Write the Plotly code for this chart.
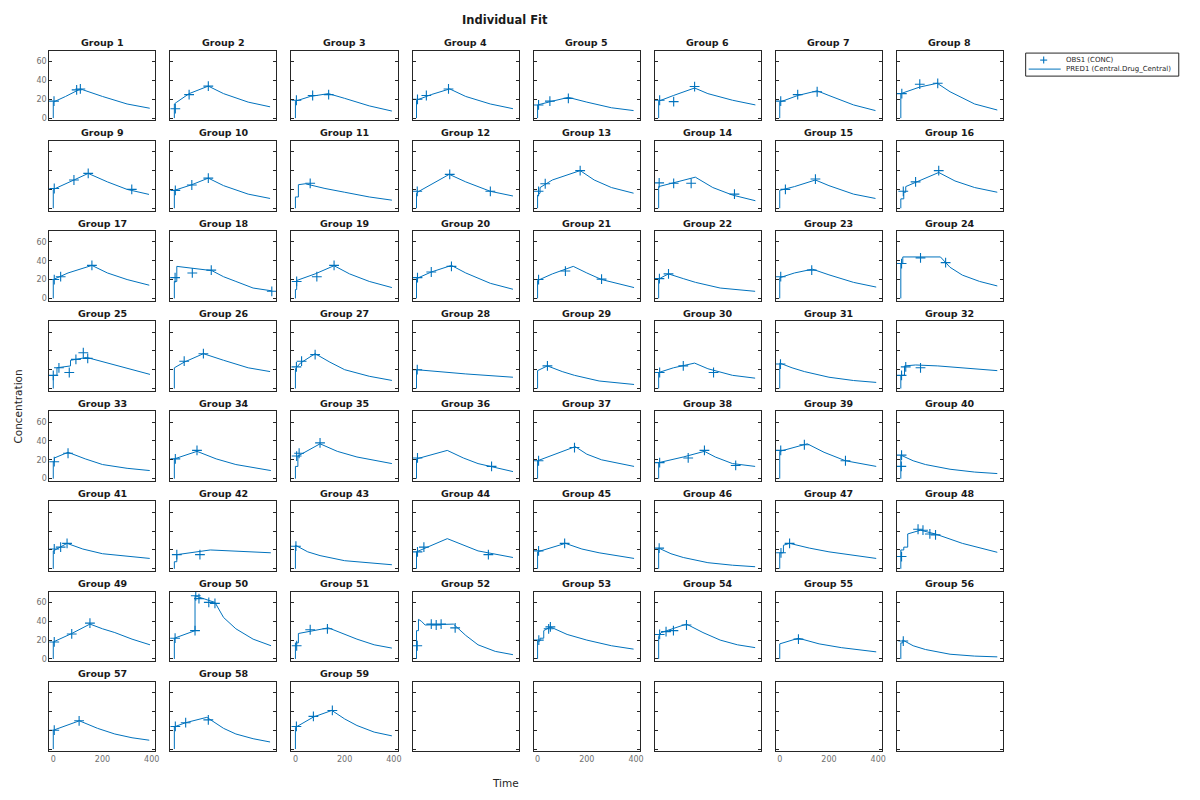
import plotly.graph_objects as go

# ---------------- data (time, concentration) ----------------
pred_g01 = [(0,0),(0,17),(50,23),(110,31),(200,23),(300,15),(392,10.5)]
obs_g01 = [(3,18),(95,30),(110,31)]
pred_g02 = [(0,0),(0,15),(10,17),(60,26),(138,34),(200,26),(300,17),(389,12)]
obs_g02 = [(4,10),(60,25),(138,34)]
pred_g03 = [(0,0),(0,18),(60,23),(134,26),(200,21),(300,13),(392,7.5)]
obs_g03 = [(4,19),(70,24),(135,25)]
pred_g04 = [(0,0),(0,19),(60,25),(135,31),(200,23),(300,15),(392,10)]
obs_g04 = [(4,20),(40,24),(130,31)]
pred_g05 = [(0,0),(0,14),(60,18),(125,22),(200,17),(300,11),(390,8)]
obs_g05 = [(4,14),(50,18),(125,21)]
pred_g06 = [(0,0),(0,18),(60,24),(146,32),(200,26),(300,19),(393,14)]
obs_g06 = [(4,19),(61,17.5),(146,33.5)]
pred_g07 = [(0,0),(0,17),(73,24),(152,29),(200,24),(300,14),(389,8)]
obs_g07 = [(4,18),(73,25),(152,28)]
pred_g08 = [(0,0),(0,26),(77,33),(148,37),(200,28),(300,15),(392,8.6)]
obs_g08 = [(4,26),(77,36),(150,37)]
pred_g09 = [(0,0),(0,20),(84,30),(142,37),(220,28),(300,20),(389,14.7)]
obs_g09 = [(4,21),(84,30),(142,37),(319,20)]
pred_g10 = [(0,0),(0,19),(71,25),(138,32),(200,24),(300,15),(389,10.4)]
obs_g10 = [(4,19),(71,24.7),(138,32)]
pred_g11 = [(0,0),(0,12),(12,12),(12,25),(40,26),(120,21),(200,17),(300,12),(392,8.6)]
obs_g11 = [(60,26.5)]
pred_g12 = [(0,0),(0,16),(10,18),(133,36),(200,28),(300,18),(392,13)]
obs_g12 = [(3,18),(135,36),(300,18)]
pred_g13 = [(0,0),(0,14),(10,16),(10,22),(60,30),(173,40),(230,30),(300,22),(390,16)]
obs_g13 = [(4,18),(31,26),(173,40)]
pred_g14 = [(0,0),(0,23),(60,27),(149,33),(220,22),(300,14),(393,8)]
obs_g14 = [(2,27),(61,26.5),(132,26.5),(308,15)]
pred_g15 = [(0,0),(0,19),(60,23),(145,30),(200,24),(300,15),(389,10.4)]
obs_g15 = [(23,20),(145,31)]
pred_g16 = [(0,0),(0,10),(12,10),(12,17),(20,17),(20,23),(154,38),(220,29),(300,22),(392,17)]
obs_g16 = [(10,18),(60,28),(154,40)]
pred_g17 = [(0,0),(0,20),(60,27),(157,35),(220,27),(300,20),(390,14)]
obs_g17 = [(4,20),(30,23),(157,35)]
pred_g18 = [(0,0),(0,18),(10,18),(10,34),(152,29.5),(200,23),(250,18),(320,11),(396,8)]
obs_g18 = [(3,22),(73,27),(150,30),(396,7.5)]
pred_g19 = [(0,0),(0,9.4),(5,9.4),(5,19),(80,26),(157,34.7),(220,26),(300,18),(392,11.5)]
obs_g19 = [(5,18),(87,23),(157,35)]
pred_g20 = [(0,0),(0,21),(60,28),(142,35),(200,27),(300,16),(392,9.7)]
obs_g20 = [(4,22),(60,28),(142,34)]
pred_g21 = [(0,0),(0,19),(60,26),(145,34),(200,27),(260,20),(392,11.5)]
obs_g21 = [(4,20),(113,29),(260,20.5)]
pred_g22 = [(0,0),(0,20),(10,22),(40,26),(100,21),(150,17),(250,11),(392,7.5)]
obs_g22 = [(3,21),(40,26)]
pred_g23 = [(0,0),(0,22),(60,27),(133,31),(200,25),(300,17),(392,12)]
obs_g23 = [(4,23),(130,30)]
pred_g24 = [(0,0),(0,37),(8,37),(8,44),(161,44),(200,33),(250,24.7),(320,18),(392,13.2)]
obs_g24 = [(3,37),(80,43),(182,38)]
pred_g25 = [(0,0),(0,14),(15,14),(15,22),(70,24),(70,30),(136,33),(250,25),(393,15)]
obs_g25 = [(0,14),(23,22),(65,17),(92,31),(122,38),(140,32)]
pred_g26 = [(0,0),(0,22),(40,28),(118,37),(200,30),(300,22),(389,18)]
obs_g26 = [(40,29),(118,37)]
pred_g27 = [(0,0),(0,21),(20,27),(80,37),(140,28),(200,20),(300,13),(392,8.6)]
obs_g27 = [(4,23),(25,29),(80,36)]
pred_g28 = [(0,0),(0,20),(200,15.5),(392,12)]
obs_g28 = [(3,20)]
pred_g29 = [(0,0),(0,19),(40,24),(100,18),(150,14),(250,8),(392,4.3)]
obs_g29 = [(40,24)]
pred_g30 = [(0,0),(0,17),(60,22),(146,27),(200,21),(300,14),(392,11)]
obs_g30 = [(4,17),(100,24),(223,17)]
pred_g31 = [(0,0),(0,27),(50,22),(100,18),(200,12),(300,8.5),(392,6.5)]
obs_g31 = [(3,26)]
pred_g32 = [(0,0),(0,14),(15,14),(15,24),(60,25),(150,24),(392,19)]
obs_g32 = [(3,14),(20,23),(80,22)]
pred_g33 = [(0,0),(0,18),(5,18),(5,22),(60,28),(130,21),(200,15),(300,11),(392,8.6)]
obs_g33 = [(4,18),(60,27)]
pred_g34 = [(0,0),(0,21),(92,29),(170,21),(250,15),(392,8.6)]
obs_g34 = [(4,21),(92,30)]
pred_g35 = [(0,0),(0,13),(10,13),(10,24),(100,37),(170,29),(250,23),(392,16)]
obs_g35 = [(5,24),(15,27),(100,38)]
pred_g36 = [(0,0),(0,21),(125,30),(190,22),(250,16),(392,7.5)]
obs_g36 = [(4,22),(305,13)]
pred_g37 = [(0,0),(0,19),(153,34),(200,26),(260,20),(392,13)]
obs_g37 = [(4,19),(150,33)]
pred_g38 = [(0,0),(0,17),(100,23),(186,29),(230,23),(300,16),(392,13)]
obs_g38 = [(4,17),(120,22),(186,30),(313,14)]
pred_g39 = [(0,0),(0,29),(112,37),(180,28),(267,19),(392,13)]
obs_g39 = [(4,30),(100,36),(267,19)]
pred_g40 = [(0,0),(0,25),(50,19),(100,15),(200,10),(300,7),(392,5.4)]
obs_g40 = [(2,13),(3,25)]
pred_g41 = [(0,0),(0,19),(56,27),(120,21),(200,16),(300,13),(392,11)]
obs_g41 = [(4,21),(30,23),(56,27)]
pred_g42 = [(0,0),(0,7.5),(10,7.5),(10,15),(146,20),(392,17)]
obs_g42 = [(10,15),(104,15)]
pred_g43 = [(0,0),(0,25),(50,18),(100,14),(200,8.6),(300,6),(392,4.3)]
obs_g43 = [(2,24)]
pred_g44 = [(0,0),(0,18),(125,32),(190,25),(250,19),(392,12)]
obs_g44 = [(4,18),(30,23),(292,15)]
pred_g45 = [(0,0),(0,18),(113,27),(180,21),(250,17),(392,11)]
obs_g45 = [(4,19),(110,27)]
pred_g46 = [(0,0),(0,22),(50,16),(100,12),(200,6.5),(300,3.8),(392,2.2)]
obs_g46 = [(2,22)]
pred_g47 = [(0,0),(0,17),(15,17),(15,25),(40,27),(120,22),(200,18),(300,14),(392,11)]
obs_g47 = [(5,17),(40,27)]
pred_g48 = [(0,0),(0,20),(12,20),(12,23),(28,23),(28,37),(80,41),(140,37),(250,27),(392,17.5)]
obs_g48 = [(3,13),(70,42),(90,41),(118,37),(141,36)]
pred_g49 = [(0,0),(0,18),(75,27),(149,37),(200,32),(250,28),(320,21),(393,15)]
obs_g49 = [(4,18),(75,26.5),(149,38)]
pred_g50 = [(0,0),(0,22),(84,30),(84,67),(165,60),(200,44),(250,32),(320,21),(393,14)]
obs_g50 = [(3,22),(84,30),(87,67),(100,64),(140,60),(165,59)]
pred_g51 = [(0,0),(0,17),(12,17),(12,27),(134,33),(200,26),(250,21),(320,15),(392,11.5)]
obs_g51 = [(5,14),(60,31),(130,32)]
pred_g52 = [(0,0),(0,30),(8,30),(8,42),(20,40),(35,36),(150,37),(200,25),(250,15),(320,8),(392,4.5)]
obs_g52 = [(3,14),(60,37),(80,36),(100,37),(157,33)]
pred_g53 = [(0,0),(0,19),(10,19),(10,22),(25,22),(25,30),(52,34),(120,26),(200,20),(300,14),(390,10.4)]
obs_g53 = [(5,20),(45,32),(52,34)]
pred_g54 = [(0,0),(0,24),(10,28),(113,37),(180,28),(250,20),(320,15),(392,12)]
obs_g54 = [(4,26),(30,29),(60,30),(113,36)]
pred_g55 = [(0,0),(0,16),(76,22),(160,16),(250,12),(392,7.5)]
obs_g55 = [(76,21)]
pred_g56 = [(0,0),(0,17),(8,17),(8,20),(50,14),(100,10),(200,5),(300,3),(392,2.2)]
obs_g56 = [(10,19)]
pred_g57 = [(0,0),(0,20),(106,30),(180,22),(250,16),(320,12),(390,9.4)]
obs_g57 = [(4,20),(105,30)]
pred_g58 = [(0,0),(0,23.6),(46,28),(132,33.7),(200,22),(250,16),(320,11),(389,7.5)]
obs_g58 = [(4,24),(46,28),(138,31)]
pred_g59 = [(0,0),(0,23),(73,34),(148,41),(200,32),(250,25),(320,18),(392,14)]
obs_g59 = [(4,24),(73,34.7),(150,41)]

group_names = [f"Group {i}" for i in range(1, 60)]
x_ticks = [0, 200, 400]
y_ticks = [0, 20, 40, 60]
legend_labels = ["OBS1 (CONC)", "PRED1 (Central.Drug_Central)"]

preds = [globals()[f"pred_g{i:02d}"] for i in range(1, 60)]
obss = [globals()[f"obs_g{i:02d}"] for i in range(1, 60)]

# ---------------- layout geometry ----------------
W, H = 1200, 800
S = 1.004  # compensation for slight down-scaling observed in the capture
NCOL, NROW = 8, 8
BLUE = "#0072BD"
FONT = "DejaVu Sans"

def px(x):
    return x * S / W

def py(y):
    return 1 - y * S / H

def xdom(c):
    return [px(49.3 + 121 * c), px(155.3 + 121 * c)]

def ydom(r):
    return [py(120.3 + 90 * r), py(50.7 + 90 * r)]

fig = go.Figure()
layout = dict(
    width=W, height=H,
    margin=dict(l=0, r=0, t=0, b=0),
    paper_bgcolor="white", plot_bgcolor="white",
    showlegend=False,
    font=dict(family=FONT, color="#262626"),
)
annotations = []
shapes = []

for k in range(NROW * NCOL):
    r, c = divmod(k, NCOL)
    idx = k + 1
    xa = "xaxis" if idx == 1 else f"xaxis{idx}"
    ya = "yaxis" if idx == 1 else f"yaxis{idx}"
    xref = "x" if idx == 1 else f"x{idx}"
    yref = "y" if idx == 1 else f"y{idx}"
    show_x = (r == NROW - 1) and (c % 2 == 0)
    show_y = (c == 0) and (r % 2 == 0)
    layout[xa] = dict(
        domain=xdom(c), anchor=yref, range=[-16, 415],
        tickvals=x_ticks, showticklabels=show_x, ticks="",
        showgrid=False, zeroline=False, showline=True, mirror=True,
        linecolor="#262626", linewidth=1,
        tickfont=dict(size=8, color="#6e6e6e", family=FONT),
    )
    layout[ya] = dict(
        domain=ydom(r), anchor=xref, range=[-2.5, 71.5],
        tickvals=y_ticks, showticklabels=show_y, ticks="inside", ticklen=3,
        tickcolor="#262626", showgrid=False, zeroline=False, showline=True,
        mirror="ticks", linecolor="#262626", linewidth=1,
        tickfont=dict(size=8, color="#6e6e6e", family=FONT),
    )
    if k < len(group_names):
        p = preds[k]
        o = obss[k]
        fig.add_trace(go.Scatter(
            x=[t for t, _ in o], y=[v for _, v in o], mode="markers",
            marker=dict(symbol="cross-thin", size=7, color=BLUE,
                        line=dict(width=1.1, color=BLUE)),
            name=legend_labels[0], xaxis=xref, yaxis=yref, cliponaxis=False,
        ))
        fig.add_trace(go.Scatter(
            x=[t for t, _ in p], y=[v for _, v in p], mode="lines",
            line=dict(color=BLUE, width=1),
            name=legend_labels[1], xaxis=xref, yaxis=yref,
        ))
        top_px = 50.7 + 90 * r
        cx = (xdom(c)[0] + xdom(c)[1]) / 2
        annotations.append(dict(
            text=f"<b>{group_names[k]}</b>", x=cx, y=py(top_px - 8),
            xref="paper", yref="paper", xanchor="center", yanchor="middle",
            showarrow=False, font=dict(size=9.5, family=FONT, color="#1a1a1a"),
        ))
    else:
        # empty panel: still drawn as an axes box
        fig.add_trace(go.Scatter(x=[None], y=[None], mode="lines",
                                 xaxis=xref, yaxis=yref, hoverinfo="skip"))

annotations += [
    dict(text="<b>Individual Fit</b>", x=px(505), y=py(20), xref="paper", yref="paper",
         xanchor="center", yanchor="middle", showarrow=False,
         font=dict(size=11.5, family=FONT, color="#1a1a1a")),
    dict(text="Time", x=px(505), y=py(782), xref="paper", yref="paper",
         xanchor="center", yanchor="middle", showarrow=False,
         font=dict(size=10.5, family=FONT, color="#262626")),
    dict(text="Concentration", x=px(18), y=py(406), xref="paper", yref="paper",
         xanchor="center", yanchor="middle", showarrow=False, textangle=-90,
         font=dict(size=10.5, family=FONT, color="#262626")),
]

# ---- legend (drawn box, glyphs and labels) ----
shapes.append(dict(type="rect", xref="paper", yref="paper",
                   x0=px(1025), x1=px(1178), y0=py(76), y1=py(53),
                   line=dict(color="#262626", width=1), fillcolor="white"))
shapes.append(dict(type="line", xref="paper", yref="paper",
                   x0=px(1039.5), x1=px(1046.5), y0=py(60), y1=py(60),
                   line=dict(color=BLUE, width=1.1)))
shapes.append(dict(type="line", xref="paper", yref="paper",
                   x0=px(1043), x1=px(1043), y0=py(56.5), y1=py(63.5),
                   line=dict(color=BLUE, width=1.1)))
shapes.append(dict(type="line", xref="paper", yref="paper",
                   x0=px(1028), x1=px(1060), y0=py(69), y1=py(69),
                   line=dict(color=BLUE, width=1)))
for label, yy in zip(legend_labels, [60, 69]):
    annotations.append(dict(text=label, x=px(1063), y=py(yy), xref="paper", yref="paper",
                            xanchor="left", yanchor="middle", showarrow=False,
                            font=dict(size=7, family=FONT, color="#262626")))

layout["annotations"] = annotations
layout["shapes"] = shapes
fig.update_layout(**layout)

fix_page = (
    "var d=document.getElementById('{plot_id}');"
    "document.documentElement.style.margin='0';document.body.style.margin='0';"
    "document.documentElement.style.overflow='hidden';document.body.style.overflow='hidden';"
    "document.documentElement.style.height='800px';document.body.style.height='800px';"
    "d.style.display='block';if(d.parentElement){d.parentElement.style.display='block';"
    "d.parentElement.style.height='800px';d.parentElement.style.overflow='hidden';}"
)
fig.write_html("out.html", config={"displayModeBar": False}, post_script=fix_page)
